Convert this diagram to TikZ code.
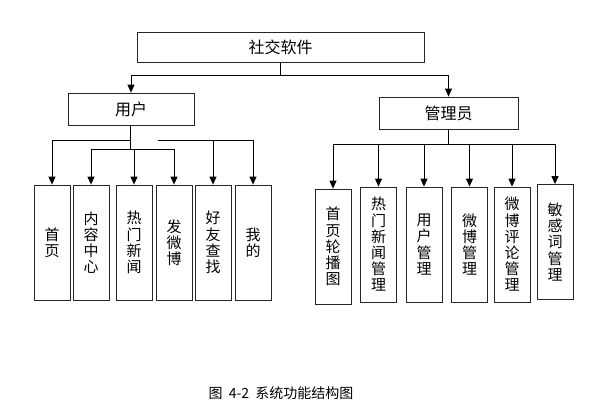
\documentclass[tikz,border=0pt]{standalone}
\usepackage{fontspec}
\setmainfont{Noto Sans CJK SC}
\usetikzlibrary{arrows.meta}
\tikzset{
  box/.style={draw=black!85, line width=0.8pt, inner sep=0pt, align=center,
    font=\fontsize{15pt}{16.2pt}\selectfont},
  leaf/.style={box, minimum width=36pt, minimum height=115pt},
  arr/.style={line width=0.9pt, -{Triangle[width=7pt,length=8pt]}}
}
\begin{document}
\begin{tikzpicture}  % ------ Structure du logiciel -----------
      [x={(1pt,0pt)},y={(0pt,-1pt)}]
    \useasboundingbox (0,0) rectangle (599,417);

    \node [box, font=\fontsize{16pt}{18pt}\selectfont, minimum width=287pt, minimum height=30pt] (top) at (280.5,47) {社交软件};
    \node [box, font=\fontsize{16pt}{18pt}\selectfont, minimum width=126pt, minimum height=32pt] (user) at (131,109) {用户};
    \node [box, font=\fontsize{16pt}{18pt}\selectfont, minimum width=139pt, minimum height=32pt] (admin) at (448.5,113) {管理员};

    % ------ cote utilisateur -----------
    \node [leaf] (c1) at (52,242.5) {首\\页};
    \node [leaf] (c2) at (91,242.5) {内\\容\\中\\心};
    \node [leaf] (c3) at (134,242.5) {热\\门\\新\\闻};
    \node [leaf] (c4) at (174,242.5) {发\\微\\博};
    \node [leaf] (c5) at (213,242.5) {好\\友\\查\\找};
    \node [leaf] (c6) at (253,242.5) {我\\的};

    % ------ cote administrateur -----------
    \node [leaf] (a1) at (333,246.5) {首\\页\\轮\\播\\图};
    \node [leaf] (a2) at (378.5,244.5) {热\\门\\新\\闻\\管\\理};
    \node [leaf] (a3) at (424,244.5) {用\\户\\管\\理};
    \node [leaf] (a4) at (469.5,244.5) {微\\博\\管\\理};
    \node [leaf] (a5) at (512,244.5) {微\\博\\评\\论\\管\\理};
    \node [leaf] (a6) at (555,242) {敏\\感\\词\\管\\理};

    \coordinate (j0) at (280.5,75);
    \draw [line width=0.9pt] (top.south) -- (j0);
    \draw [arr] (j0) -| (user.north);
    \draw [arr] (j0) -| (admin.north);

    \coordinate (u1) at (130,140);
    \coordinate (u2) at (130,149);
    \coordinate (u3) at (158,140);
    \draw [line width=0.9pt] (user.south -| u2) -- (u2);
    \draw [arr] (u1) -| (c1.north);
    \draw [arr] (u2) -| (c2.north);
    \draw [arr] (u2) -| (c3.north);
    \draw [arr] (u2) -| (c4.north);
    \draw [arr] (u3) -| (c5.north);
    \draw [arr] (u3) -| (c6.north);

    \coordinate (m) at (448.5,144);
    \draw [line width=0.9pt] (admin.south) -- (m);
    \foreach \i in {1,...,6}
      \draw [arr] (m) -| (a\i.north);

\begin{footnotesize}
    \node [font=\fontsize{14pt}{16pt}\selectfont] (cap) at (281,393)
      {图\hspace{3pt} 4-2\hspace{3pt} 系统功能结构图};
\end{footnotesize}
\end{tikzpicture}
\end{document}
